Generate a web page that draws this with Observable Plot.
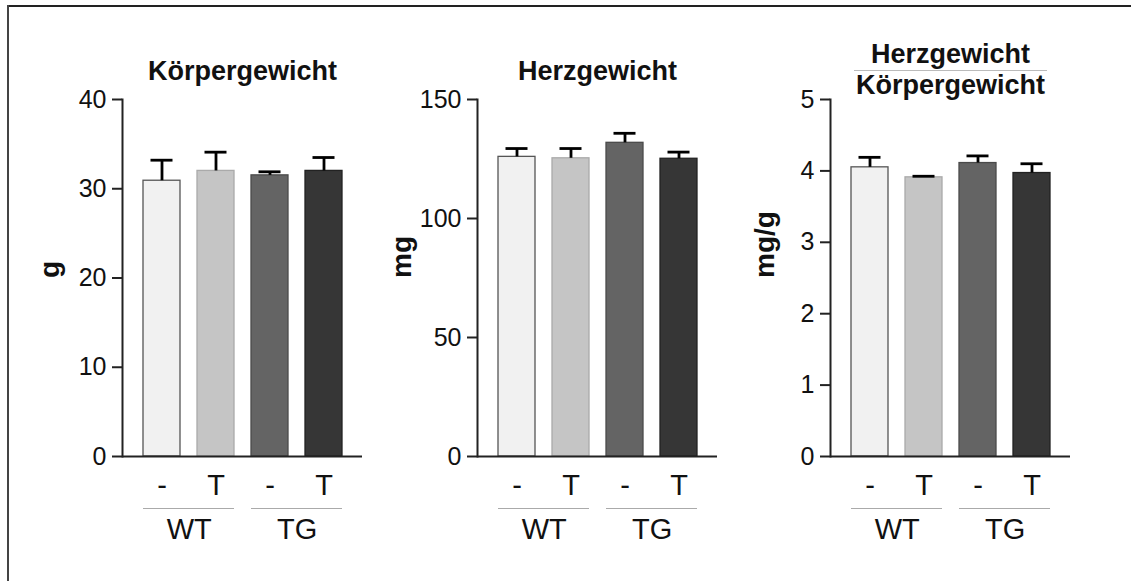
<!DOCTYPE html>
<html><head><meta charset="utf-8">
<script src="https://cdn.jsdelivr.net/npm/d3@7"></script>
<script src="https://cdn.jsdelivr.net/npm/@observablehq/plot@0.6"></script>
<style>
html,body{margin:0;padding:0;background:#fff;overflow:hidden;}
#wrap{position:relative;width:1131px;height:581px;overflow:hidden;font-family:"Liberation Sans",Arial,Helvetica,sans-serif;background:#fff;}
#btop{position:absolute;left:7px;top:5px;width:1124px;height:0;border-top:2px solid #222;}
#bleft{position:absolute;left:7px;top:5px;width:0;height:576px;border-left:2px solid #444;}
</style></head><body><div id="wrap"><div id="btop"></div><div id="bleft"></div></div>
<script>
// ---- data ----
const groups = ["WT", "WT", "TG", "TG"];
const treatments = ["-", "T", "-", "T"];
const barFills = ["#f1f1f1", "#c5c5c5", "#646464", "#363636"];
const barStrokes = ["#555555", "#aaaaaa", "#4a4a4a", "#222222"];

const bodyMean = [30.9, 32.0, 31.5, 32.0];
const bodyErr = [2.3, 2.1, 0.4, 1.5];
const heartMean = [125.9, 125.3, 131.8, 125.1];
const heartErr = [3.5, 4.1, 4.0, 2.8];
const ratioMean = [4.05, 3.91, 4.11, 3.97];
const ratioErr = [0.14, 0.015, 0.10, 0.13];

const bodyTicks = [0, 10, 20, 30, 40];
const heartTicks = [0, 50, 100, 150];
const ratioTicks = [0, 1, 2, 3, 4, 5];

const groupNames = ["WT", "TG"];

// ---- layout ----
const FONT = '"Liberation Sans", Arial, Helvetica, sans-serif';
const ML = 122, MR = 10, PW = 240, H = 581, MT = 99, MB = 125;
const PI = 0.32, PO = 0.362;
const step = PW / (groups.length - PI + 2 * PO);

const keys = groups.map((g, i) => g + "|" + treatments[i]);
const keyLabel = new Map(keys.map((k, i) => [k, treatments[i]]));
const groupRows = groupNames.map(name => {
  const ks = keys.filter((k, i) => groups[i] === name);
  return {name, first: ks[0], last: ks[ks.length - 1]};
});

function panel({left, means, errs, ticks, ylabel, titles, labelDx}) {
  const rows = keys.map((k, i) => ({key: k, mean: means[i], err: errs[i], fill: barFills[i], stroke: barStrokes[i]}));
  const ymax = ticks[ticks.length - 1];
  const marks = [
    Plot.barY(rows, {x: "key", y: "mean", fill: "fill", stroke: "stroke", strokeWidth: 1.3}),
    Plot.ruleX(rows, {x: "key", y1: "mean", y2: d => d.mean + d.err, stroke: "#000", strokeWidth: 2.8}),
    Plot.tickY(rows, {x: "key", y: d => d.mean + d.err, stroke: "#000", strokeWidth: 2.8, insetLeft: 7.5, insetRight: 7.5}),
    Plot.frame({anchor: "left", stroke: "#222", strokeWidth: 2}),
    Plot.ruleY([0], {stroke: "#222", strokeWidth: 2}),
    Plot.axisY({ticks, tickSize: 10, tickPadding: 6, fontSize: 25, label: null, stroke: "#222", strokeWidth: 2, tickFormat: d => String(d)}),
    Plot.axisX({tickSize: 0, tickPadding: 18, fontSize: 29, label: null, tickFormat: k => keyLabel.get(k)}),
    Plot.ruleY(groupRows, {x1: "first", x2: "last", y: () => 0, dy: 52, stroke: "#aaa", strokeWidth: 1}),
    Plot.text(groupRows, {x: "first", y: () => 0, dx: step / 2, dy: 62, text: "name", lineAnchor: "top", fontSize: 29}),
    Plot.text([ylabel], {frameAnchor: "left", rotate: -90, dx: labelDx, fontSize: 28, fontWeight: "bold", lineAnchor: "middle"})
  ];
  if (titles.length === 1) {
    marks.push(Plot.text(titles, {frameAnchor: "top", dy: -20, lineAnchor: "bottom", fontSize: 27, fontWeight: "bold"}));
  } else {
    marks.push(Plot.text([titles[0]], {frameAnchor: "top", dy: -37, lineAnchor: "bottom", fontSize: 27, fontWeight: "bold"}));
    marks.push(Plot.ruleY(groupRows.slice(0, 1), {x1: () => keys[0], x2: () => keys[keys.length - 1], y: () => ymax, dy: -29, stroke: "#bbb", strokeWidth: 1, insetLeft: 3, insetRight: 3}));
    marks.push(Plot.text([titles[1]], {frameAnchor: "top", dy: -6, lineAnchor: "bottom", fontSize: 27, fontWeight: "bold"}));
  }
  const svg = Plot.plot({
    width: ML + PW + MR, height: H,
    marginLeft: ML, marginRight: MR, marginTop: MT, marginBottom: MB,
    style: {background: "transparent", overflow: "visible", fontFamily: FONT, color: "#111"},
    x: {domain: keys, paddingInner: PI, paddingOuter: PO, align: 0.5},
    y: {domain: [0, ymax]},
    color: {type: "identity"},
    marks
  });
  svg.style.left = left + "px";
  svg.style.position = "absolute";
  svg.style.top = "0px";
  document.getElementById("wrap").appendChild(svg);
}

panel({left: 0, means: bodyMean, errs: bodyErr, ticks: bodyTicks, ylabel: "g", titles: ["Körpergewicht"], labelDx: -72});
panel({left: 355, means: heartMean, errs: heartErr, ticks: heartTicks, ylabel: "mg", titles: ["Herzgewicht"], labelDx: -75});
panel({left: 708, means: ratioMean, errs: ratioErr, ticks: ratioTicks, ylabel: "mg/g", titles: ["Herzgewicht", "Körpergewicht"], labelDx: -65});
</script></body></html>
